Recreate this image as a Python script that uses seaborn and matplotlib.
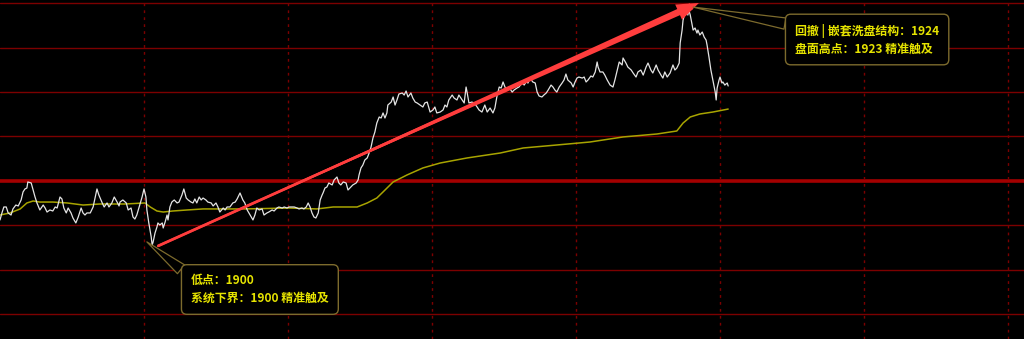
import numpy as np
import pandas as pd
import matplotlib
matplotlib.use("Agg")
import matplotlib.pyplot as plt
import seaborn as sns

# ---------------- data (minutes from session start, price) ----------------
time_min = [
    0.0, 0.4, 0.8, 1.3, 1.7, 2.3, 2.7, 3.3, 3.8, 4.4, 4.8, 5.2, 5.6, 5.8, 6.5, 6.9, 7.3, 7.7, 8.3, 9.0,
    9.4, 9.8, 10.4, 11.0, 11.5, 11.9, 12.5, 12.9, 13.3, 13.8, 14.2, 14.8, 15.2, 15.8, 16.3, 16.9, 17.3, 17.7, 18.1, 18.8,
    19.4, 19.8, 20.2, 20.6, 21.3, 21.7, 22.3, 22.7, 23.3, 23.8, 24.4, 24.8, 25.0, 25.6, 26.3, 26.7, 27.3, 27.7, 28.1, 28.5,
    29.0, 29.6, 30.0, 30.4, 30.6, 31.0, 31.5, 31.7, 31.9, 32.3, 32.7, 32.9, 33.3, 33.8, 34.0, 34.4, 34.8, 35.0, 35.4, 35.8,
    36.3, 36.9, 37.3, 37.9, 38.3, 38.8, 39.2, 39.8, 40.2, 40.6, 41.0, 41.5, 41.9, 42.3, 42.9, 43.3, 44.0, 44.4, 45.0, 45.4,
    45.8, 46.5, 46.9, 47.3, 47.9, 48.5, 49.0, 49.4, 50.0, 50.6, 51.0, 51.5, 52.1, 52.7, 53.1, 53.5, 54.0, 54.6, 55.0, 55.6,
    56.0, 56.7, 57.1, 57.7, 58.1, 58.8, 59.2, 59.8, 60.2, 60.8, 61.3, 61.9, 62.3, 62.9, 63.3, 63.8, 64.2, 64.6, 65.0, 65.4,
    65.8, 66.3, 66.7, 67.1, 67.3, 67.7, 68.1, 68.5, 69.2, 69.6, 70.2, 70.6, 71.0, 71.5, 72.1, 72.5, 73.1, 73.5, 74.2, 74.6,
    74.8, 75.2, 75.6, 76.0, 76.5, 76.9, 77.3, 77.7, 78.1, 78.5, 79.0, 79.4, 79.8, 80.2, 80.6, 80.8, 81.5, 81.9, 82.3, 82.7,
    83.1, 83.8, 84.2, 84.6, 85.0, 85.6, 86.0, 86.5, 86.9, 87.5, 88.1, 88.5, 89.0, 89.6, 90.2, 90.6, 91.0, 91.7, 92.3, 92.7,
    93.1, 93.5, 94.2, 94.6, 95.2, 95.6, 96.3, 96.7, 97.1, 97.3, 97.7, 98.3, 98.8, 99.4, 99.8, 100.4, 101.0, 101.5, 102.1, 102.7,
    103.1, 103.5, 104.0, 104.4, 104.8, 105.2, 105.6, 106.0, 106.7, 107.1, 107.7, 108.1, 108.8, 109.2, 109.6, 110.0, 110.4, 111.0, 111.5, 111.9,
    112.3, 112.9, 113.3, 113.8, 114.2, 114.8, 115.2, 115.6, 116.0, 116.5, 117.1, 117.5, 117.9, 118.3, 119.0, 119.4, 119.8, 120.2, 120.6, 121.3,
    121.7, 122.1, 122.5, 123.1, 123.5, 124.0, 124.4, 124.6, 125.0, 125.6, 126.0, 126.5, 127.1, 127.7, 128.1, 128.5, 129.0, 129.6, 129.8, 130.4,
    130.8, 131.5, 131.9, 132.5, 132.9, 133.5, 134.0, 134.6, 135.0, 135.6, 136.0, 136.7, 137.1, 137.7, 138.1, 138.5, 139.0, 139.6, 140.2, 140.6,
    141.0, 141.5, 141.7, 142.1, 142.3, 142.7, 143.1, 143.3, 143.5, 143.8, 144.2, 144.4, 144.8, 145.2, 145.4, 145.8, 146.3, 146.7, 147.1, 147.3,
    147.7, 148.1, 148.5, 148.8, 149.0, 149.2, 149.4, 149.8, 150.0, 150.4, 150.6, 151.0, 151.5, 151.7,
]
price = [
    1902.43, 1903.11, 1903.69, 1903.69, 1903.11, 1902.91, 1903.50, 1903.88, 1903.79, 1904.37, 1905.15, 1905.44, 1905.53, 1906.12, 1906.02, 1905.34, 1904.66, 1904.08, 1903.40, 1903.88,
    1903.59, 1903.20, 1903.40, 1903.30, 1903.69, 1903.59, 1904.66, 1904.47, 1903.59, 1903.11, 1903.59, 1903.11, 1902.62, 1902.14, 1902.72, 1903.59, 1903.11, 1902.91, 1903.11, 1903.11,
    1903.69, 1904.56, 1905.44, 1904.85, 1904.08, 1903.69, 1904.08, 1903.69, 1904.08, 1904.66, 1904.17, 1903.79, 1904.17, 1904.37, 1904.08, 1903.40, 1903.59, 1902.72, 1902.52, 1902.91,
    1903.69, 1904.66, 1905.44, 1904.66, 1903.40, 1902.14, 1900.78, 1900.00, 1900.29, 1901.17, 1901.75, 1902.14, 1901.94, 1902.14, 1901.65, 1902.23, 1902.91, 1902.43, 1903.69, 1904.17,
    1904.37, 1904.08, 1904.17, 1904.85, 1905.44, 1904.56, 1904.37, 1904.17, 1904.08, 1904.47, 1904.08, 1904.66, 1904.37, 1904.56, 1904.37, 1904.17, 1904.08, 1903.79, 1904.08, 1903.69,
    1903.20, 1903.59, 1903.40, 1903.69, 1903.69, 1904.08, 1904.17, 1904.47, 1905.05, 1904.37, 1904.08, 1903.40, 1902.91, 1902.43, 1902.91, 1903.59, 1903.40, 1903.50, 1902.91, 1903.11,
    1903.20, 1903.40, 1903.30, 1903.59, 1903.69, 1903.59, 1903.69, 1903.59, 1903.69, 1903.69, 1903.69, 1903.59, 1903.50, 1903.59, 1903.50, 1903.69, 1904.08, 1903.69, 1903.11, 1902.72,
    1902.62, 1903.11, 1904.37, 1904.85, 1905.05, 1905.53, 1905.63, 1906.02, 1905.83, 1906.31, 1906.60, 1906.02, 1905.83, 1906.12, 1906.02, 1905.34, 1905.63, 1905.83, 1906.02, 1906.31,
    1906.80, 1907.48, 1907.77, 1908.25, 1908.45, 1908.93, 1909.51, 1910.39, 1910.97, 1911.84, 1912.43, 1912.33, 1912.82, 1912.33, 1912.82, 1913.59, 1913.88, 1914.37, 1913.59, 1914.08,
    1914.66, 1914.76, 1914.56, 1914.95, 1914.37, 1914.76, 1914.27, 1913.88, 1913.79, 1913.59, 1913.40, 1913.79, 1913.88, 1912.91, 1913.11, 1913.40, 1912.82, 1912.91, 1913.11, 1913.59,
    1913.40, 1914.08, 1914.56, 1914.27, 1914.08, 1914.56, 1914.08, 1913.79, 1915.34, 1914.85, 1913.79, 1913.88, 1913.79, 1913.40, 1913.11, 1912.91, 1913.59, 1912.91, 1913.30, 1912.82,
    1913.30, 1914.37, 1915.34, 1915.24, 1915.83, 1915.34, 1915.05, 1915.34, 1914.85, 1915.05, 1915.24, 1915.34, 1915.73, 1915.53, 1915.83, 1915.73, 1916.21, 1915.83, 1915.73, 1914.85,
    1914.47, 1914.37, 1914.56, 1914.76, 1915.05, 1915.53, 1915.34, 1915.05, 1914.85, 1915.34, 1915.73, 1916.02, 1916.60, 1916.02, 1915.73, 1915.34, 1915.83, 1916.21, 1916.31, 1916.21,
    1916.31, 1915.83, 1916.02, 1916.41, 1916.31, 1916.80, 1917.77, 1917.28, 1916.80, 1916.80, 1916.50, 1916.02, 1915.53, 1915.34, 1916.02, 1916.80, 1917.77, 1917.48, 1918.16, 1917.67,
    1917.28, 1916.99, 1916.70, 1916.31, 1916.80, 1916.99, 1916.50, 1917.28, 1917.67, 1916.99, 1916.70, 1917.48, 1916.99, 1916.50, 1916.21, 1916.80, 1916.31, 1916.70, 1917.48, 1916.99,
    1917.18, 1917.67, 1919.61, 1920.87, 1921.84, 1922.52, 1923.01, 1922.33, 1922.82, 1922.33, 1921.36, 1920.87, 1921.07, 1920.58, 1920.87, 1920.39, 1920.68, 1920.19, 1919.90, 1919.42,
    1918.25, 1916.99, 1916.02, 1915.24, 1914.85, 1914.08, 1915.24, 1916.02, 1916.31, 1915.73, 1915.83, 1915.53, 1915.73, 1915.44,
]
avg_time = [
    0.0, 2.1, 4.2, 5.6, 6.9, 8.3, 11.0, 14.0, 17.3, 20.8, 26.0, 30.2, 31.3, 32.7, 34.0, 36.0, 39.0, 42.3, 45.8, 51.0,
    60.4, 66.0, 69.4, 74.4, 76.5, 78.5, 79.8, 81.9, 84.8, 88.1, 91.7, 97.3, 104.2, 109.0, 116.0, 122.9, 129.8, 136.9, 141.0, 142.3,
    143.8, 145.8, 148.5, 151.7,
]
avg_price = [
    1902.91, 1903.11, 1903.50, 1904.08, 1904.27, 1904.17, 1904.17, 1904.08, 1903.88, 1903.98, 1903.98, 1904.08, 1903.69, 1903.30, 1903.20, 1903.30, 1903.40, 1903.50, 1903.50, 1903.50,
    1903.59, 1903.50, 1903.69, 1903.69, 1904.08, 1904.56, 1905.15, 1906.12, 1906.80, 1907.48, 1907.96, 1908.45, 1908.93, 1909.42, 1909.71, 1910.00, 1910.49, 1910.78, 1911.07, 1911.84,
    1912.43, 1912.72, 1912.91, 1913.20,
]
grid_levels = [1923.47, 1919.17, 1914.88, 1910.55, 1901.91, 1897.60, 1893.30]
base_level = 1906.21
vgrid_times = [30, 60, 90, 120, 150, 180, 210]
x_range = (0, 213.33)
y_range = (1890.87, 1923.79)

arrow_tail = (32.9, 1899.9)
arrow_tip = (145.6, 1923.5)
low_anchor = (30.6, 1900.3)
high_anchor = (144.4, 1923.1)
label_low = "低点：1900\n系统下界：1900 精准触及"
label_high = "回撤 | 嵌套洗盘结构：1924\n盘面高点：1923 精准触及"

# ---------------- style ----------------
sns.set_theme(style="dark", rc={"axes.facecolor": "black", "figure.facecolor": "black"})
plt.rcParams["font.family"] = ["Noto Sans CJK SC", "DejaVu Sans"]

fig = plt.figure(figsize=(10.24, 3.39), dpi=100)
ax = fig.add_axes([0, 0, 1, 1])
ax.set_facecolor("black")

grid_red = "#7c0000"
for lvl in grid_levels:
    ax.axhline(lvl, color=grid_red, lw=1.0, zorder=1)
ax.axhline(base_level, color="#a30000", lw=2.6, zorder=1)
for t in vgrid_times:
    ax.axvline(t, color=grid_red, lw=1.0, ls=(0, (2, 3)), zorder=1)

price_df = pd.DataFrame({"t": time_min, "p": price})
avg_df = pd.DataFrame({"t": avg_time, "p": avg_price})
sns.lineplot(data=avg_df, x="t", y="p", ax=ax, color="#a8a400", lw=1.1,
             estimator=None, sort=False, zorder=3)
sns.lineplot(data=price_df, x="t", y="p", ax=ax, color="#e4e4e4", lw=0.9,
             estimator=None, sort=False, zorder=4)

# ---------------- trend arrow ----------------
arrow_red = "#ff3d3d"
ax.annotate("", xy=arrow_tip, xytext=arrow_tail,
            arrowprops=dict(arrowstyle="-", color=arrow_red, lw=1.6,
                            shrinkA=0, shrinkB=6), zorder=5)
ax.annotate("", xy=arrow_tail, xytext=arrow_tip,
            arrowprops=dict(arrowstyle="wedge,tail_width=0.45,shrink_factor=0.5",
                            fc=arrow_red, ec="none", lw=0, mutation_scale=11,
                            shrinkA=6, shrinkB=0), zorder=5)
ax.annotate("", xy=arrow_tip, xytext=arrow_tail,
            arrowprops=dict(arrowstyle="simple,head_length=0.8,head_width=0.6,tail_width=0.1",
                            fc=arrow_red, ec="none", lw=0, mutation_scale=20,
                            shrinkA=0, shrinkB=0), zorder=5)

# ---------------- callouts ----------------
box_edge = "#7d6b2d"
text_yellow = "#e6e400"
for label, anchor, pos, rel in [
    (label_low, low_anchor, (191 / 1024, 1 - 289.5 / 339), (0.0, 0.9)),
    (label_high, high_anchor, (795 / 1024, 1 - 39.5 / 339), (0.0, 0.95)),
]:
    ax.annotate(label, xy=anchor, xycoords="data", xytext=pos, textcoords="axes fraction",
                ha="left", va="center", fontsize=8.6, fontweight="bold", color=text_yellow,
                linespacing=1.45,
                bbox=dict(boxstyle="round,pad=0.8,rounding_size=0.45", fc="black",
                          ec=box_edge, lw=1.0),
                arrowprops=dict(arrowstyle="wedge,tail_width=0.95,shrink_factor=0.5",
                                fc="black", ec=box_edge, lw=0.9, relpos=rel,
                                shrinkA=0, shrinkB=0),
                zorder=6)

ax.set_xlim(*x_range)
ax.set_ylim(*y_range)
ax.set_xticks([])
ax.set_yticks([])
ax.set_xlabel("")
ax.set_ylabel("")
for s in ax.spines.values():
    s.set_visible(False)
if ax.get_legend() is not None:
    ax.get_legend().remove()

fig.savefig("out.png", dpi=100, facecolor="black")
